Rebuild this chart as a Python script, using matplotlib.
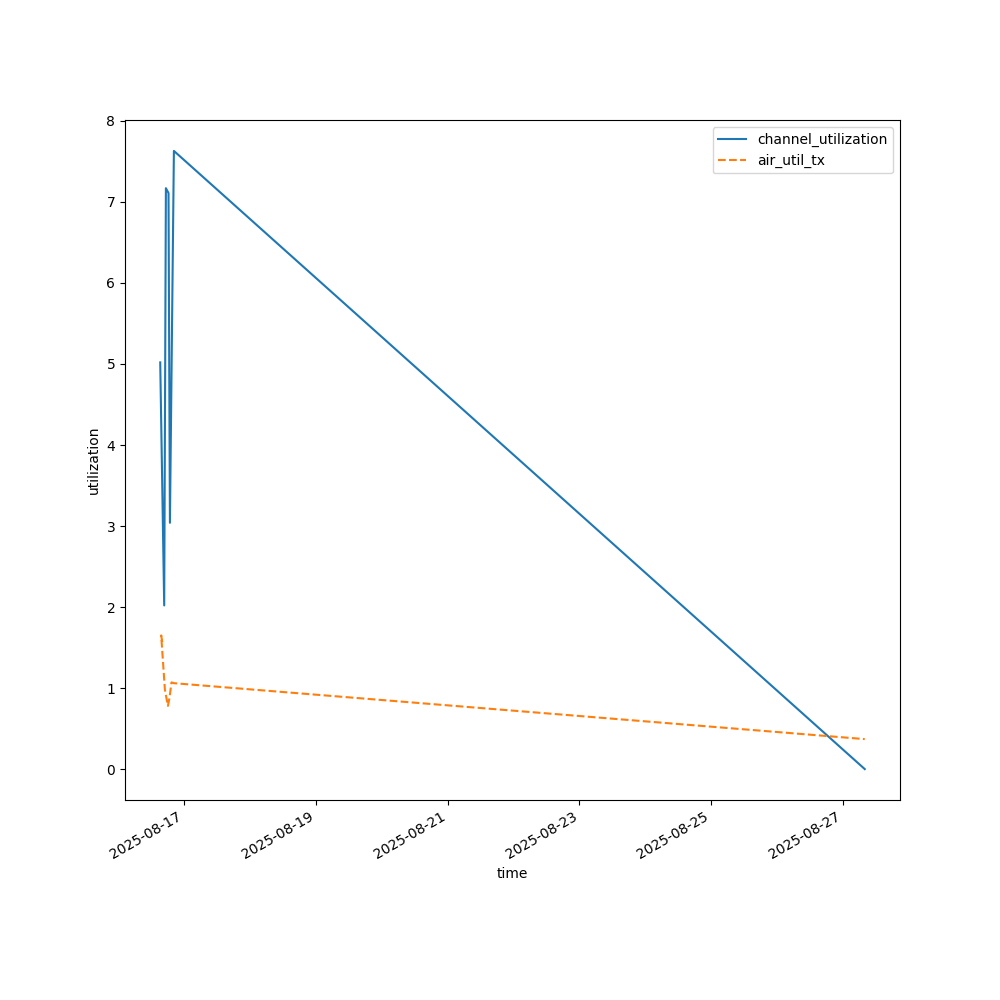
import matplotlib
matplotlib.use("Agg")
import matplotlib.pyplot as plt
import pandas as pd

# channel utilization samples
cu_time = pd.to_datetime([
    "2025-08-16 15:16", "2025-08-16 16:43", "2025-08-16 17:20",
    "2025-08-16 18:17", "2025-08-16 18:48", "2025-08-16 20:15",
    "2025-08-27 08:01",
])
cu_vals = [5.02, 2.02, 7.17, 7.11, 3.04, 7.63, 0.0]

# air util tx samples
tx_time = pd.to_datetime([
    "2025-08-16 15:59", "2025-08-16 15:37", "2025-08-16 16:58",
    "2025-08-16 18:04", "2025-08-16 18:39", "2025-08-16 19:22",
    "2025-08-16 20:22", "2025-08-27 08:01",
])
tx_vals = [1.57, 1.65, 0.98, 0.78, 0.88, 1.07, 1.06, 0.37]

fig, ax = plt.subplots(figsize=(10, 10), dpi=100)
ax.plot(cu_time, cu_vals, label="channel_utilization")
ax.plot(tx_time, tx_vals, linestyle="--", label="air_util_tx")
ax.set_xlabel("time")
ax.set_ylabel("utilization")
ax.legend(loc="upper right")
fig.autofmt_xdate()
plt.savefig("out.png")
